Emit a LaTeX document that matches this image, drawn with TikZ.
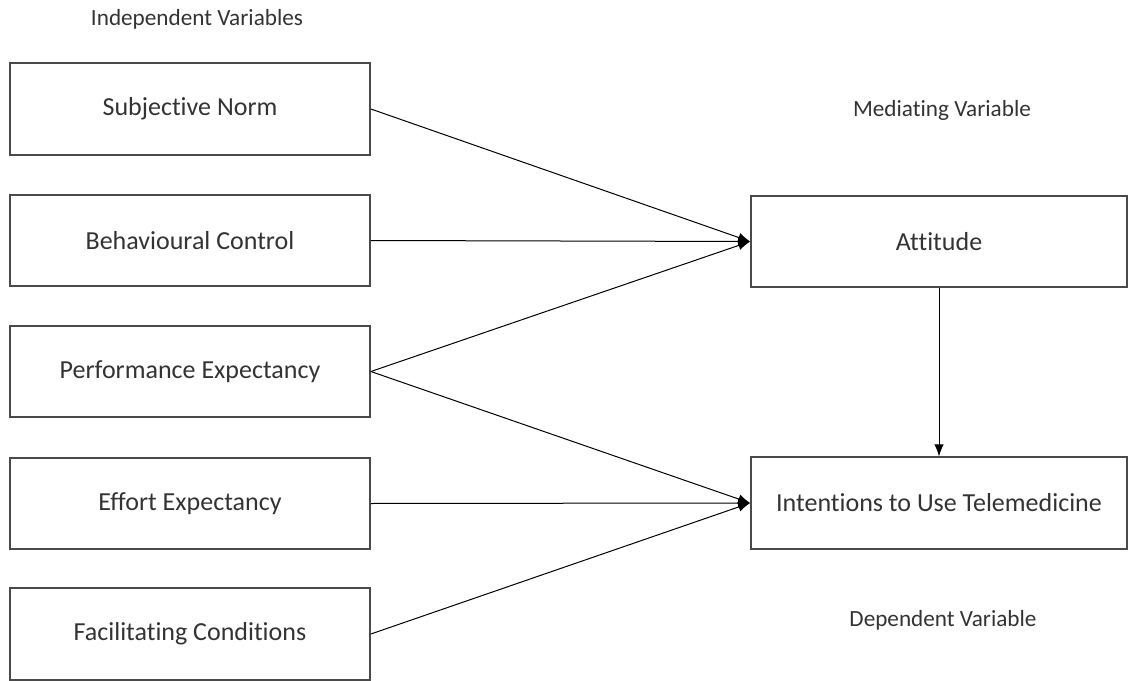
\documentclass[tikz,border=0pt]{standalone}
\usepackage{fontspec}
\setmainfont{Carlito}[Ligatures={NoCommon}]
\usepackage{xcolor}
\usepackage{tikz}
\usetikzlibrary{arrows.meta, positioning, calc}
\definecolor{boxgray}{HTML}{4A4A4A}
\definecolor{textgray}{HTML}{333333}
\tikzset{
    varbox/.style = {draw=boxgray, line width=1.3pt, text centered, text=textgray,
        font=\fontsize{19.5}{23}\selectfont, inner sep=0pt},
    indep/.style = {varbox, minimum width=270pt, minimum height=68.5pt},
    dep/.style = {varbox, minimum width=282pt, minimum height=68.5pt},
    heading/.style = {text=textgray, font=\fontsize{17.4}{20}\selectfont, inner sep=0pt},
}

\begin{document}
\begin{tikzpicture}[x=0.75pt, y=-0.75pt, ->, >={Latex[length=9pt,width=7pt]}, line width=0.75pt]
        \useasboundingbox (0,0) rectangle (1128,681);
        \node [heading] (indlabel) at (197,19) {Independent Variables};
        \node [heading] (medlabel) at (942,110) {Mediating Variable};
        \node [heading] (deplabel) at (943,620) {Dependent Variable};

        \node [indep] (sn) at (190,109) {Subjective Norm};
        \node [indep] (bc) at (190,240.5) {Behavioural Control};
        \node [indep] (pe) at (190,371.5) {Performance Expectancy};
        \node [indep] (ee) at (190,503.5) {Effort Expectancy};
        \node [indep] (fc) at (190,634) {Facilitating Conditions};

        \node [dep] (att) at (939,241.5) {Attitude};
        \node [dep] (itu) at (939,503) {Intentions to Use Telemedicine};

        \draw (sn.east) -- (att.west);
        \draw (bc.east) -- (att.west);
        \draw (pe.east) -- (att.west);
        \draw (pe.east) -- (itu.west);
        \draw (ee.east) -- (itu.west);
        \draw (fc.east) -- (itu.west);
        \draw (att.south) -- (itu.north);
        \end{tikzpicture}
\end{document}
